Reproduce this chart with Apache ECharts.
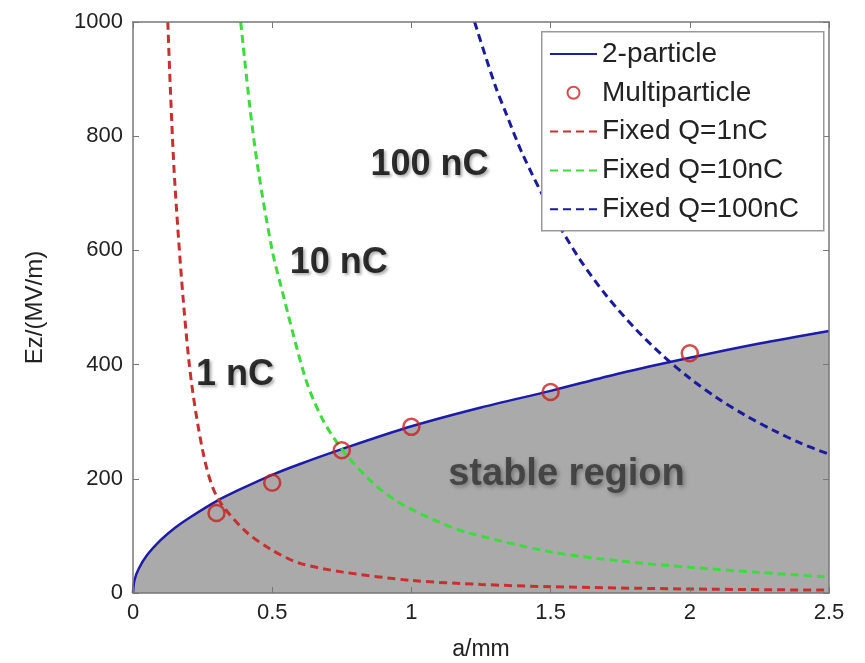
<!DOCTYPE html>
<html>
<head>
<meta charset="utf-8">
<script src="https://cdn.jsdelivr.net/npm/echarts@6/dist/echarts.min.js"></script>
<style>
  html, body { margin: 0; padding: 0; background: #fff; }
  #main { width: 865px; height: 663px; }
</style>
</head>
<body>
<div id="main"></div>
<script>
// values (a in mm, Ez in MV/m)
var twoParticleA  = [0, 0.005, 0.02, 0.05, 0.1, 0.15, 0.2, 0.3, 0.4, 0.5, 0.6, 0.75, 1, 1.25, 1.5, 1.75, 2, 2.25, 2.5];
var twoParticleEz = [0, 22, 42, 66, 93, 114, 131, 161, 185, 207, 226, 252, 292, 325, 354, 385, 412, 437, 459];

var multiA  = [0.3, 0.5, 0.75, 1, 1.5, 2];
var multiEz = [140, 193, 250, 291, 352, 420];

var q1A  = [0.125, 0.15, 0.2, 0.25, 0.3, 0.4, 0.5, 0.6, 0.75, 1, 1.25, 1.5, 2, 2.5];
var q1Ez = [1000, 720, 410, 250, 170, 110, 75, 52, 37, 22, 15, 11, 7, 5];

var q10A  = [0.387, 0.42, 0.45, 0.5, 0.53, 0.62, 0.68, 0.75, 0.85, 0.95, 1.1, 1.2, 1.5, 1.75, 2, 2.25, 2.5];
var q10Ez = [1000, 850, 740, 600, 540, 375, 305, 252, 198, 160, 124, 106, 72, 56, 45, 36, 28];

var q100A  = [1.227, 1.3, 1.34, 1.4, 1.5, 1.6, 1.7, 1.8, 1.9, 2, 2.1, 2.2, 2.3, 2.4, 2.5];
var q100Ez = [1000, 890, 840, 768, 670, 588, 521, 465, 417, 376, 341, 311, 285, 262, 243];

var noteText = ['1 nC', '10 nC', '100 nC'];
var noteA    = [0.366, 0.739, 1.065];
var noteEz   = [382, 578, 750];
var regionText = 'stable region';
var regionAt   = [1.557, 207];

function pairs(xs, ys) {
    return xs.map(function (x, i) { return [x, ys[i]]; });
}

var font = '"Liberation Sans", Arial, sans-serif';
var dash = [8, 5];
var frame = { show: true, onZero: false, lineStyle: { color: '#777', width: 1.5 } };
var ticks = { show: true, inside: true, length: 6, lineStyle: { color: '#777' } };
var noSymbol = { opacity: 0 };

var myChart = echarts.init(document.getElementById('main'));
var option = {
    backgroundColor: '#fff',
    animation: false,
    grid: {
        left: 133, right: 36, top: 22, bottom: 70,
        outerBoundsMode: 'none',
        containLabel: false
    },
    legend: {
        orient: 'vertical',
        left: 549,
        top: 40,
        padding: 0,
        itemWidth: 47,
        itemHeight: 12,
        itemGap: 10.8,
        textStyle: { fontFamily: font, fontSize: 28, color: '#222', lineHeight: 28 },
        data: [
            { name: '2-particle', itemStyle: noSymbol },
            { name: 'Multiparticle' },
            { name: 'Fixed Q=1nC', itemStyle: noSymbol },
            { name: 'Fixed Q=10nC', itemStyle: noSymbol },
            { name: 'Fixed Q=100nC', itemStyle: noSymbol }
        ],
        z: 10
    },
    graphic: [{
        type: 'rect',
        left: 541, top: 31,
        shape: { width: 282, height: 199 },
        style: { fill: '#fff', stroke: '#999', lineWidth: 1.5 },
        z: 8
    }],
    xAxis: [{
        type: 'value',
        min: 0, max: 2.5, interval: 0.5,
        name: 'a/mm',
        nameLocation: 'middle',
        nameGap: 45,
        nameTextStyle: { fontFamily: font, fontSize: 23, color: '#222' },
        axisLine: frame,
        axisTick: ticks,
        axisLabel: { fontFamily: font, fontSize: 22, color: '#222', margin: 9 },
        splitLine: { show: false },
        z: 6
    }, {
        type: 'value',
        position: 'top',
        min: 0, max: 2.5, interval: 0.5,
        axisLine: frame,
        axisTick: ticks,
        axisLabel: { show: false },
        splitLine: { show: false },
        z: 6
    }],
    yAxis: [{
        type: 'value',
        min: 0, max: 1000, interval: 200,
        name: 'Ez/(MV/m)',
        nameLocation: 'middle',
        nameGap: 86,
        nameTextStyle: { fontFamily: font, fontSize: 24, color: '#222' },
        axisLine: frame,
        axisTick: ticks,
        axisLabel: {
            fontFamily: font, fontSize: 22, color: '#222', margin: 10,
            formatter: function (v) { return String(v); }
        },
        splitLine: { show: false },
        z: 6
    }, {
        type: 'value',
        position: 'right',
        min: 0, max: 1000, interval: 200,
        axisLine: frame,
        axisTick: ticks,
        axisLabel: { show: false },
        splitLine: { show: false },
        z: 6
    }],
    series: [
        {
            name: '2-particle',
            type: 'line',
            data: pairs(twoParticleA, twoParticleEz),
            symbol: 'none',
            smooth: 0.3,
            lineStyle: { color: '#1c1ca8', width: 2.5 },
            itemStyle: { color: '#1c1ca8' },
            areaStyle: { color: '#aaaaaa', opacity: 1 },
            z: 2
        },
        {
            name: 'Fixed Q=1nC',
            type: 'line',
            data: pairs(q1A, q1Ez),
            symbol: 'none',
            smooth: 0.3,
            lineStyle: { color: '#c8302f', width: 3, type: dash },
            itemStyle: { color: '#c8302f' },
            z: 3
        },
        {
            name: 'Fixed Q=10nC',
            type: 'line',
            data: pairs(q10A, q10Ez),
            symbol: 'none',
            smooth: 0.3,
            lineStyle: { color: '#3ddc3d', width: 3, type: dash },
            itemStyle: { color: '#3ddc3d' },
            z: 3
        },
        {
            name: 'Fixed Q=100nC',
            type: 'line',
            data: pairs(q100A, q100Ez),
            symbol: 'none',
            smooth: 0.3,
            lineStyle: { color: '#1a1a9e', width: 3, type: dash },
            itemStyle: { color: '#1a1a9e' },
            z: 3
        },
        {
            name: 'Multiparticle',
            type: 'scatter',
            data: pairs(multiA, multiEz),
            symbol: 'circle',
            symbolSize: 16,
            itemStyle: { color: 'rgba(0,0,0,0)', borderColor: '#c82020', borderWidth: 2.5 },
            z: 4
        },
        {
            name: 'notes',
            type: 'scatter',
            data: noteA.map(function (a, i) { return { value: [a, noteEz[i]], name: noteText[i] }; }),
            symbolSize: 0,
            silent: true,
            label: {
                show: true,
                position: 'inside',
                formatter: '{b}',
                fontFamily: font,
                fontWeight: 'bold',
                fontSize: 36,
                color: '#000',
                textShadowColor: 'rgba(0,0,0,0.4)',
                textShadowBlur: 3,
                textShadowOffsetX: 2,
                textShadowOffsetY: 2
            },
            z: 5
        },
        {
            name: 'region',
            type: 'scatter',
            data: [{ value: regionAt, name: regionText }],
            symbolSize: 0,
            silent: true,
            label: {
                show: true,
                position: 'inside',
                formatter: '{b}',
                fontFamily: font,
                fontWeight: 'bold',
                fontSize: 38,
                color: '#333',
                textShadowColor: 'rgba(0,0,0,0.4)',
                textShadowBlur: 4,
                textShadowOffsetX: 2,
                textShadowOffsetY: 2
            },
            z: 5
        }
    ]
};
myChart.setOption(option);
</script>
</body>
</html>
